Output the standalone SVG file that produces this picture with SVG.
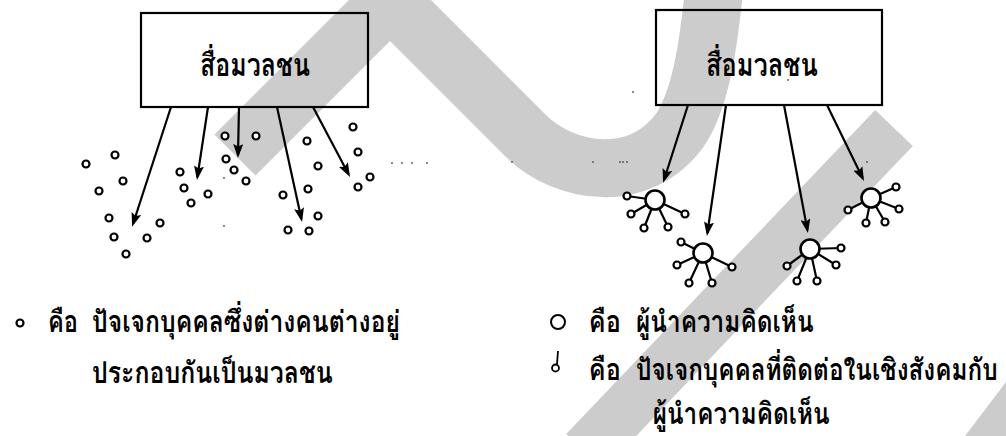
<svg xmlns="http://www.w3.org/2000/svg" width="1006" height="436" viewBox="0 0 1006 436">
  <style>
    .wm { fill: none; stroke: #cccccc; stroke-linejoin: miter; stroke-linecap: butt; }
    .box { fill: none; stroke: #000; stroke-width: 2.2; }
    .thai { font-family: "Loma", "Garuda", "Waree", "Tlwg Typo", "Noto Sans Thai Looped", "Noto Sans Thai", "Noto Sans", "DejaVu Sans", sans-serif; fill: #000; font-weight: 600; }
    .boxlabel { font-size: 31px; }
    .legend { font-size: 30px; }
    .arrow { fill: none; stroke: #000; stroke-width: 2.2; marker-end: url(#head); }
    .dot { fill: #fff; stroke: #000; stroke-width: 2.2; }
    .hub { fill: #fff; stroke: #000; stroke-width: 2.6; }
    .spoke { stroke: #000; stroke-width: 2.2; }
    .speck { fill: #555; }
  </style>
  <defs>
    <marker id="head" viewBox="0 0 14 10" refX="11" refY="5" markerWidth="14" markerHeight="10" markerUnits="userSpaceOnUse" orient="auto">
      <path d="M0,0 L14,5 L0,10 L2.5,5 z" fill="#000"/>
    </marker>
  </defs>

  <rect width="1006" height="436" fill="#fff"/>

  <!-- background strokes -->
  <g id="watermark">
    <path class="wm" stroke-width="58" d="M235,155 L390,0 L525,135 C565,175 640,185 680,130 C700,100 708,50 714,-10"/>
    <path class="wm" stroke-width="52" d="M894,128 L585,452"/>
    <polygon points="965,436 1006,382 1006,436" fill="#cccccc"/>
  </g>

  <!-- left: mass media box -->
  <g id="media-left">
    <rect class="box" x="141" y="13" width="227" height="94"/>
    <text class="thai boxlabel" x="255" y="76" text-anchor="middle" textLength="110" lengthAdjust="spacingAndGlyphs">สื่อมวลชน</text>
  </g>

  <!-- right: mass media box -->
  <g id="media-right">
    <rect class="box" x="656" y="10" width="226" height="95"/>
    <text class="thai boxlabel" x="762" y="76" text-anchor="middle" textLength="112" lengthAdjust="spacingAndGlyphs">สื่อมวลชน</text>
  </g>

  <!-- scattered individuals -->
  <g id="individuals">
    <circle class="dot" cx="86" cy="164" r="3.5"/>
    <circle class="dot" cx="115" cy="155" r="3.5"/>
    <circle class="dot" cx="123" cy="181" r="3.5"/>
    <circle class="dot" cx="99" cy="191" r="3.5"/>
    <circle class="dot" cx="109" cy="218" r="3.5"/>
    <circle class="dot" cx="114" cy="237" r="3.5"/>
    <circle class="dot" cx="126" cy="254" r="3.5"/>
    <circle class="dot" cx="147" cy="238" r="3.5"/>
    <circle class="dot" cx="160" cy="223" r="3.5"/>
    <circle class="dot" cx="180" cy="172" r="3.5"/>
    <circle class="dot" cx="184" cy="188" r="3.5"/>
    <circle class="dot" cx="208" cy="194" r="3.5"/>
    <circle class="dot" cx="191" cy="203" r="3.5"/>
    <circle class="dot" cx="225" cy="136" r="3.5"/>
    <circle class="dot" cx="256" cy="136" r="3.5"/>
    <circle class="dot" cx="226" cy="159" r="3.5"/>
    <circle class="dot" cx="234" cy="170" r="3.5"/>
    <circle class="dot" cx="246" cy="181" r="3.5"/>
    <circle class="dot" cx="307" cy="141" r="3.5"/>
    <circle class="dot" cx="318" cy="166" r="3.5"/>
    <circle class="dot" cx="308" cy="189" r="3.5"/>
    <circle class="dot" cx="283" cy="195" r="3.5"/>
    <circle class="dot" cx="318" cy="216" r="3.5"/>
    <circle class="dot" cx="288" cy="230" r="3.5"/>
    <circle class="dot" cx="309" cy="231" r="3.5"/>
    <circle class="dot" cx="353" cy="127" r="3.5"/>
    <circle class="dot" cx="358" cy="152" r="3.5"/>
    <circle class="dot" cx="370" cy="177" r="3.5"/>
    <circle class="dot" cx="358" cy="187" r="3.5"/>
  </g>

  <!-- opinion leaders with their followers -->
  <g id="leader-a">
    <path class="spoke" d="M655,200 L627,196 M655,200 L631,214 M655,200 L644,228 M655,200 L668,227 M655,200 L685,214"/>
    <circle class="hub" cx="655" cy="200" r="9.5"/>
    <circle class="dot" cx="627" cy="196" r="3.5"/>
    <circle class="dot" cx="631" cy="214" r="3.5"/>
    <circle class="dot" cx="644" cy="228" r="3.5"/>
    <circle class="dot" cx="668" cy="227" r="3.5"/>
    <circle class="dot" cx="685" cy="214" r="3.5"/>
  </g>
  <g id="leader-b">
    <path class="spoke" d="M703,253 L681,242 M703,253 L677,265 M703,253 L689,283 M703,253 L712,283 M703,253 L732,267"/>
    <circle class="hub" cx="703" cy="253" r="9.5"/>
    <circle class="dot" cx="681" cy="242" r="3.5"/>
    <circle class="dot" cx="677" cy="265" r="3.5"/>
    <circle class="dot" cx="689" cy="283" r="3.5"/>
    <circle class="dot" cx="712" cy="283" r="3.5"/>
    <circle class="dot" cx="732" cy="267" r="3.5"/>
  </g>
  <g id="leader-c">
    <path class="spoke" d="M810,249 L787,266 M810,249 L797,281 M810,249 L817,281 M810,249 L836,265 M810,249 L841,248"/>
    <circle class="hub" cx="810" cy="249" r="9.5"/>
    <circle class="dot" cx="787" cy="266" r="3.5"/>
    <circle class="dot" cx="797" cy="281" r="3.5"/>
    <circle class="dot" cx="817" cy="281" r="3.5"/>
    <circle class="dot" cx="836" cy="265" r="3.5"/>
    <circle class="dot" cx="841" cy="248" r="3.5"/>
  </g>
  <g id="leader-d">
    <path class="spoke" d="M871,198 L896,187 M871,198 L899,209 M871,198 L885,222 M871,198 L866,223 M871,198 L848,210"/>
    <circle class="hub" cx="871" cy="198" r="9.5"/>
    <circle class="dot" cx="896" cy="187" r="3.5"/>
    <circle class="dot" cx="899" cy="209" r="3.5"/>
    <circle class="dot" cx="885" cy="222" r="3.5"/>
    <circle class="dot" cx="866" cy="223" r="3.5"/>
    <circle class="dot" cx="848" cy="210" r="3.5"/>
  </g>

  <!-- arrows from the media -->
  <g id="connectors">
    <path class="arrow" d="M171,107 L133,224"/>
    <path class="arrow" d="M208,107 L197.4,177"/>
    <path class="arrow" d="M239,107 L238,155"/>
    <path class="arrow" d="M277,107 L301.4,219"/>
    <path class="arrow" d="M313,107 L348.6,174.3"/>
    <path class="arrow" d="M688,105 L664,180"/>
    <path class="arrow" d="M726,105 L707.4,233"/>
    <path class="arrow" d="M784,105 L807.4,230"/>
    <path class="arrow" d="M827,105 L862.7,178.3"/>
  </g>

  <!-- legend, left (glyphs narrowed horizontally) -->
  <g id="legend-left">
    <circle class="dot" cx="20" cy="323" r="3.5"/>
    <text class="thai legend" transform="scale(0.8,1)" x="60" y="332" textLength="37.5" lengthAdjust="spacingAndGlyphs">คือ</text>
    <text class="thai legend" transform="scale(0.8,1)" x="115" y="332" textLength="385" lengthAdjust="spacingAndGlyphs">ปัจเจกบุคคลซึ่งต่างคนต่างอยู่</text>
    <text class="thai legend" transform="scale(0.8,1)" x="115" y="383" textLength="301" lengthAdjust="spacingAndGlyphs">ประกอบกันเป็นมวลชน</text>
  </g>

  <!-- legend, right (glyphs narrowed horizontally) -->
  <g id="legend-right">
    <circle cx="558" cy="322" r="7" fill="none" stroke="#000" stroke-width="2"/>
    <path d="M558,351 L557,364" stroke="#000" stroke-width="1.8"/>
    <circle cx="555.5" cy="368" r="3.5" fill="none" stroke="#000" stroke-width="1.8"/>
    <text class="thai legend" transform="scale(0.8,1)" x="736" y="332" textLength="40" lengthAdjust="spacingAndGlyphs">คือ</text>
    <text class="thai legend" transform="scale(0.8,1)" x="795" y="332" textLength="222" lengthAdjust="spacingAndGlyphs">ผู้นำความคิดเห็น</text>
    <text class="thai legend" transform="scale(0.8,1)" x="736" y="380" textLength="40" lengthAdjust="spacingAndGlyphs">คือ</text>
    <text class="thai legend" transform="scale(0.8,1)" x="795" y="380" textLength="452" lengthAdjust="spacingAndGlyphs">ปัจเจกบุคคลที่ติดต่อในเชิงสังคมกับ</text>
    <text class="thai legend" transform="scale(0.8,1)" x="816" y="424" textLength="221" lengthAdjust="spacingAndGlyphs">ผู้นำความคิดเห็น</text>
  </g>

  <!-- scanner specks -->
  <g id="specks">
    <circle class="speck" cx="392" cy="163" r="0.9"/>
    <circle class="speck" cx="402" cy="163" r="0.9"/>
    <circle class="speck" cx="412" cy="163" r="0.9"/>
    <circle class="speck" cx="427" cy="163" r="0.9"/>
    <circle class="speck" cx="512" cy="162" r="0.9"/>
    <circle class="speck" cx="593" cy="162" r="0.9"/>
    <circle class="speck" cx="620" cy="162" r="0.9"/>
    <circle class="speck" cx="623" cy="162" r="0.9"/>
    <circle class="speck" cx="627" cy="162" r="0.9"/>
    <circle class="speck" cx="867" cy="162" r="0.9"/>
    <circle class="speck" cx="224" cy="178" r="0.9"/>
    <circle class="speck" cx="224" cy="226" r="0.9"/>
    <circle class="speck" cx="633" cy="92" r="0.9"/>
    <circle class="speck" cx="788" cy="80" r="0.9"/>
  </g>
</svg>
